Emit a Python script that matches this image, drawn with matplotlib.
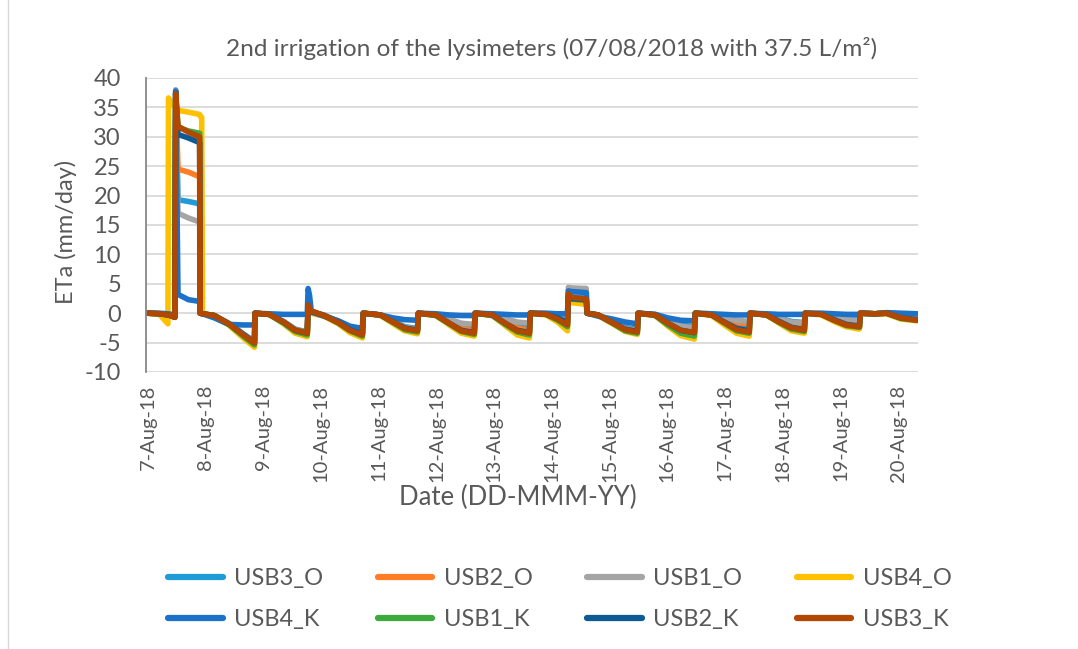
import numpy as np
import matplotlib
matplotlib.use("Agg")
import matplotlib.pyplot as plt
from matplotlib.lines import Line2D

plt.rcParams['font.family'] = ['Lato', 'DejaVu Sans']
plt.rcParams['axes.unicode_minus'] = False

# time in days after 7-Aug-18 00:00
t = [0.00, 0.20, 0.345, 0.355, 0.465, 0.48, 0.52, 0.70, 0.895, 0.905, 0.93, 0.945,
     1.15, 1.40, 1.65, 1.845,
     1.855, 2.10, 2.35, 2.55, 2.76,
     2.775, 2.80, 2.83,
     3.05, 3.30, 3.50, 3.715,
     3.73, 4.03, 4.25, 4.45, 4.67,
     4.685, 4.99, 5.22, 5.43, 5.655,
     5.67, 5.97, 6.19, 6.40, 6.61,
     6.625, 6.90, 7.10, 7.27,
     7.285, 7.33, 7.595,
     7.61, 7.80, 8.05, 8.27, 8.48,
     8.495, 8.79, 9.01, 9.23, 9.47,
     9.485, 9.77, 9.99, 10.20, 10.42,
     10.435, 10.72, 10.94, 11.15, 11.375,
     11.39, 11.67, 11.89, 12.10, 12.33,
     12.345, 12.6, 12.8, 13.05, 13.33]

usb3_o = [0.0, -0.1, -0.3, -0.3, -0.6, 37.4, 19.3, 19.0, 18.6, 0.0, -0.05, -0.1,
          -0.4, -1.7, -3.5, -4.8,
          0.0, -0.2, -1.4, -2.7, -3.2,
          1.0, 0.5, 0.2,
          -0.3, -1.4, -2.6, -3.3,
          0.0, -0.3, -1.3, -2.3, -2.6,
          0.0, -0.3, -1.2, -2.2, -2.5,
          0.0, -0.2, -1.2, -2.1, -2.4,
          0.0, -0.1, -0.5, -1.0,
          3.0, 2.8, 2.6,
          0.0, -0.3, -1.4, -2.4, -2.8,
          0.0, -0.2, -1.2, -2.0, -2.3,
          0.0, -0.2, -1.1, -1.9, -2.2,
          0.0, -0.2, -0.8, -1.4, -1.6,
          0.0, -0.1, -0.6, -1.0, -1.2,
          0.0, -0.1, 0.0, -0.6, -0.9]

usb2_o = [0.0, -0.1, -0.3, -0.3, -0.6, 37.4, 24.5, 24.0, 23.2, 0.0, -0.05, -0.1,
          -0.4, -1.8, -3.6, -5.0,
          0.0, -0.2, -1.5, -2.8, -3.3,
          1.0, 0.5, 0.2,
          -0.4, -1.5, -2.7, -3.5,
          0.0, -0.3, -1.4, -2.4, -2.8,
          0.0, -0.3, -1.5, -2.6, -3.0,
          0.0, -0.3, -1.5, -2.5, -2.9,
          0.0, -0.1, -0.7, -1.3,
          2.6, 2.4, 2.2,
          0.0, -0.3, -1.5, -2.6, -3.0,
          0.0, -0.3, -1.5, -2.5, -2.9,
          0.0, -0.2, -0.9, -1.6, -1.8,
          0.0, -0.2, -1.0, -1.7, -2.0,
          0.0, -0.2, -0.8, -1.4, -1.6,
          0.0, -0.1, 0.0, -0.7, -1.0]

usb1_o = [0.0, -0.1, -0.3, -0.3, -0.6, 38.0, 17.0, 16.2, 15.5, 0.0, -0.05, -0.1,
          -0.4, -1.9, -3.8, -5.3,
          0.0, -0.2, -1.6, -3.0, -3.5,
          2.0, 0.6, 0.3,
          -0.4, -1.5, -2.8, -3.6,
          0.0, -0.3, -1.4, -2.4, -2.8,
          0.0, -0.2, -1.0, -1.7, -1.9,
          0.0, -0.2, -0.9, -1.5, -1.7,
          0.0, -0.1, -0.4, -0.8,
          4.4, 4.3, 4.2,
          0.0, -0.3, -1.5, -2.6, -3.0,
          0.0, -0.3, -1.3, -2.2, -2.5,
          0.0, -0.1, -0.7, -1.2, -1.4,
          0.0, -0.2, -0.9, -1.5, -1.7,
          0.0, -0.1, -0.7, -1.1, -1.3,
          0.0, -0.1, 0.0, -0.5, -0.8]

usb4_o = [0.0, -0.2, -1.8, 36.6, 35.0, 34.7, 34.5, 34.2, 33.8, 33.5, 33.3, 0.0,
          -0.5, -2.0, -4.2, -5.8,
          0.0, -0.2, -1.8, -3.4, -4.0,
          0.5, 0.2, 0.0,
          -0.5, -1.8, -3.3, -4.2,
          0.0, -0.4, -1.8, -3.0, -3.5,
          0.0, -0.4, -2.0, -3.4, -3.9,
          0.0, -0.4, -2.1, -3.7, -4.2,
          0.0, -0.3, -1.5, -3.0,
          2.0, 1.8, 1.5,
          0.0, -0.4, -1.8, -3.1, -3.6,
          0.0, -0.4, -2.2, -3.8, -4.4,
          0.0, -0.4, -2.0, -3.4, -3.9,
          0.0, -0.3, -1.7, -3.0, -3.4,
          0.0, -0.3, -1.4, -2.3, -2.7,
          0.0, -0.2, -0.1, -1.0, -1.3]

usb4_k = [0.0, 0.0, -0.1, -0.1, -0.3, 37.8, 3.2, 2.3, 2.0, 0.0, -0.05, -0.1,
          -0.8, -1.9, -2.0, -2.0,
          0.0, -0.1, -0.2, -0.2, -0.2,
          4.2, 3.0, 0.2,
          -0.5, -1.3, -2.2, -2.6,
          0.0, -0.3, -0.8, -1.1, -1.2,
          0.0, -0.1, -0.3, -0.4, -0.4,
          0.0, -0.1, -0.2, -0.3, -0.3,
          0.0, 0.0, -0.1, -0.1,
          3.8, 3.7, 3.5,
          0.0, -0.5, -1.0, -1.5, -1.8,
          0.0, -0.2, -0.8, -1.2, -1.3,
          0.0, -0.1, -0.2, -0.3, -0.3,
          0.0, -0.1, -0.2, -0.2, -0.2,
          0.0, 0.0, -0.1, -0.2, -0.2,
          0.0, -0.1, 0.1, 0.0, -0.1]

usb1_k = [0.0, -0.1, -0.3, -0.3, -0.7, 37.4, 31.6, 31.0, 30.6, 0.0, -0.05, -0.1,
          -0.4, -1.9, -3.9, -5.4,
          0.0, -0.2, -1.7, -3.1, -3.7,
          1.2, 0.6, 0.3,
          -0.4, -1.7, -3.0, -3.9,
          0.0, -0.3, -1.6, -2.8, -3.2,
          0.0, -0.4, -1.8, -3.1, -3.6,
          0.0, -0.4, -1.9, -3.2, -3.7,
          0.0, -0.2, -1.2, -2.3,
          2.6, 2.4, 2.2,
          0.0, -0.3, -1.7, -3.0, -3.4,
          0.0, -0.4, -2.0, -3.4, -3.9,
          0.0, -0.3, -1.7, -3.0, -3.4,
          0.0, -0.3, -1.6, -2.7, -3.1,
          0.0, -0.2, -1.2, -2.1, -2.4,
          0.0, -0.1, 0.0, -0.9, -1.2]

usb2_k = [0.0, -0.1, -0.3, -0.3, -0.7, 37.4, 30.4, 29.8, 29.0, 0.0, -0.05, -0.1,
          -0.4, -1.8, -3.6, -5.0,
          0.0, -0.2, -1.5, -2.9, -3.4,
          1.2, 0.6, 0.3,
          -0.4, -1.5, -2.8, -3.6,
          0.0, -0.3, -1.5, -2.5, -2.9,
          0.0, -0.3, -1.7, -2.9, -3.3,
          0.0, -0.3, -1.7, -2.9, -3.3,
          0.0, -0.2, -0.8, -1.6,
          2.8, 2.5, 2.3,
          0.0, -0.3, -1.6, -2.7, -3.1,
          0.0, -0.3, -1.7, -2.9, -3.3,
          0.0, -0.3, -1.5, -2.6, -3.0,
          0.0, -0.3, -1.4, -2.4, -2.8,
          0.0, -0.2, -1.1, -1.9, -2.2,
          0.0, -0.1, 0.0, -0.8, -1.1]

usb3_k = [0.0, -0.1, -0.3, -0.3, -0.7, 37.3, 31.8, 30.8, 30.0, 0.0, -0.05, -0.1,
          -0.4, -1.8, -3.7, -5.1,
          0.0, -0.2, -1.5, -2.9, -3.4,
          1.4, 0.7, 0.4,
          -0.4, -1.6, -2.9, -3.7,
          0.0, -0.3, -1.5, -2.6, -3.0,
          0.0, -0.3, -1.7, -3.0, -3.4,
          0.0, -0.3, -1.7, -3.0, -3.4,
          0.0, -0.2, -1.0, -2.0,
          3.3, 2.7, 2.4,
          0.0, -0.3, -1.6, -2.8, -3.2,
          0.0, -0.3, -1.7, -2.9, -3.3,
          0.0, -0.3, -1.6, -2.8, -3.2,
          0.0, -0.3, -1.5, -2.5, -2.9,
          0.0, -0.2, -1.2, -2.0, -2.3,
          0.0, -0.1, 0.0, -0.8, -1.2]

names = ['USB3_O', 'USB2_O', 'USB1_O', 'USB4_O', 'USB4_K', 'USB1_K', 'USB2_K', 'USB3_K']
colors = ['#1F9BD8', '#FF7D27', '#A5A5A5', '#FFC000', '#1C72C8', '#3CAA3C', '#0D5A94', '#B24700']
series = [usb3_o, usb2_o, usb1_o, usb4_o, usb4_k, usb1_k, usb2_k, usb3_k]

tick_labels = ['7-Aug-18', '8-Aug-18', '9-Aug-18', '10-Aug-18', '11-Aug-18', '12-Aug-18', '13-Aug-18',
               '14-Aug-18', '15-Aug-18', '16-Aug-18', '17-Aug-18', '18-Aug-18', '19-Aug-18', '20-Aug-18']

txt = '#595959'
W, H = 1078, 649
fig = plt.figure(figsize=(W / 100, H / 100), dpi=100)
ax = fig.add_axes([146 / W, 1 - 372 / H, (918 - 146) / W, (372 - 78) / H])

for y, c, n in zip(series, colors, names):
    ax.plot(t, y, color=c, lw=4.0, label=n, solid_joinstyle='round', solid_capstyle='round')

ax.set_ylim(-10, 40)
ax.set_yticks(range(-10, 41, 5))
ax.set_xlim(-2 / 57.7, 770 / 57.7)
ax.set_xticks(range(len(tick_labels)))
ax.set_xticklabels(tick_labels, rotation=90)
ax.grid(axis='y', color='#D9D9D9', lw=1.3)
ax.set_axisbelow(True)
for s in ['top', 'right', 'bottom']:
    ax.spines[s].set_visible(False)
ax.spines['left'].set_color('#878787')
ax.spines['left'].set_linewidth(1.3)
ax.tick_params(axis='both', length=0, colors=txt)
ax.tick_params(axis='y', pad=18, labelsize=17)
ax.tick_params(axis='x', pad=9, labelsize=14.5)

fig.text(66 / W, 1 - 232 / H, 'ETa (mm/day)', rotation=90, ha='center', va='center',
         fontsize=17, color=txt)
fig.text(518 / W, 1 - 497 / H, 'Date (DD-MMM-YY)', ha='center', va='center',
         fontsize=18.5, color=txt)
fig.text(552 / W, 1 - 48 / H, '2nd irrigation of the lysimeters (07/08/2018 with 37.5 L/m²)',
         ha='center', va='center', fontsize=17.6, color=txt)

# legend filled row by row
order = [0, 4, 1, 5, 2, 6, 3, 7]
handles = [Line2D([], [], color=colors[i], lw=4.5, solid_capstyle='round') for i in order]
labels = [names[i] for i in order]
leg = fig.legend(handles, labels, loc='center', bbox_to_anchor=(560 / W, 1 - 599 / H), ncol=4,
                 frameon=False, fontsize=17, handlelength=2.3, columnspacing=2.3,
                 labelspacing=0.86, handletextpad=0.5)
for tx in leg.get_texts():
    tx.set_color(txt)

fig.add_artist(Line2D([8 / W, 8 / W], [0, 1], color='#D9D9D9', lw=1.0))

fig.savefig('out.png', dpi=100)
